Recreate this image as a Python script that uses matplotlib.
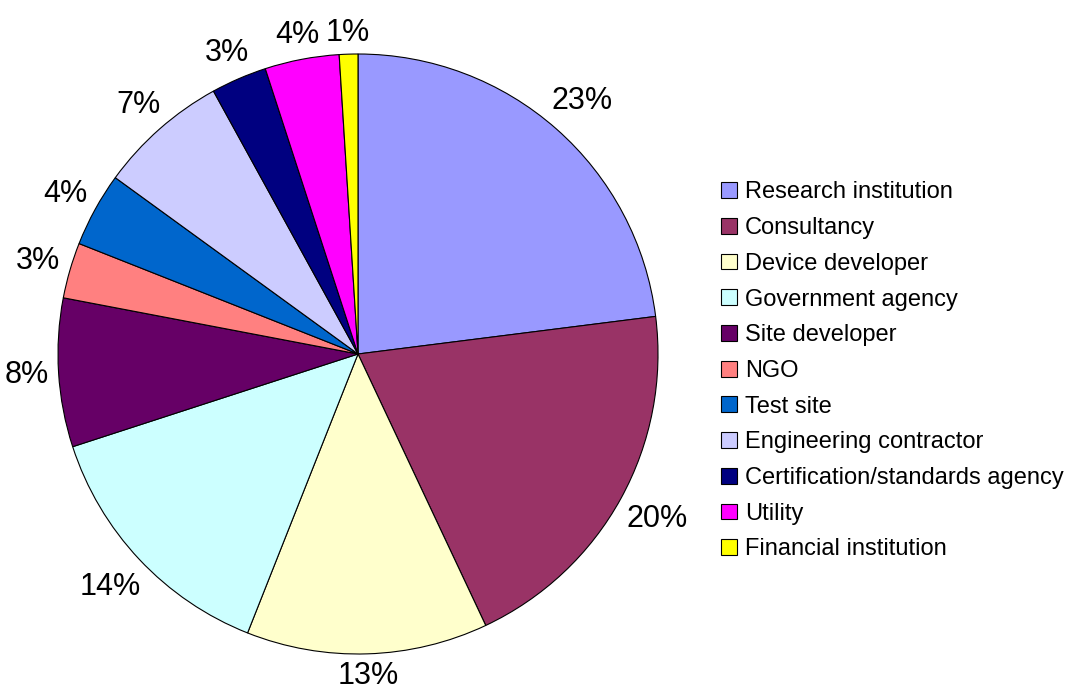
import numpy as np
import matplotlib.pyplot as plt

plt.rcParams["font.family"] = ["Liberation Sans", "DejaVu Sans"]

categories = [
    "Research institution",
    "Consultancy",
    "Device developer",
    "Government agency",
    "Site developer",
    "NGO",
    "Test site",
    "Engineering contractor",
    "Certification/standards agency",
    "Utility",
    "Financial institution",
]
shares = [23, 20, 13, 14, 8, 3, 4, 7, 3, 4, 1]
colors = [
    "#9999FF", "#993366", "#FFFFCC", "#CCFFFF", "#660066", "#FF8080",
    "#0066CC", "#CCCCFF", "#000080", "#FF00FF", "#FFFF00",
]

W, H = 1074, 691
fig = plt.figure(figsize=(W / 100, H / 100), dpi=100)
R = 300  # pie radius in px
cx, cy = 358, 354
ax = fig.add_axes([(cx - R) / W, (H - cy - R) / H, 2 * R / W, 2 * R / H])

wedges, _ = ax.pie(
    shares,
    colors=colors,
    startangle=90,
    counterclock=False,
    radius=1,
    wedgeprops=dict(edgecolor="black", linewidth=0.8),
)
ax.set_xlim(-1, 1)
ax.set_ylim(-1, 1)
ax.axis("off")

# percentage labels just outside the rim, pushed out by half the text box
fs = 22
em = fs * 100 / 72 / R  # em in data units
gap = 9 / R
for w, v in zip(wedges, shares):
    theta = np.deg2rad((w.theta1 + w.theta2) / 2)
    label = f"{v}%"
    ndig = len(label) - 1
    half_w = (ndig * 0.556 + 0.889) * em / 2
    half_h = 12 / R
    d = 1 + gap + half_w * abs(np.cos(theta)) + half_h * abs(np.sin(theta))
    ax.text(d * np.cos(theta), d * np.sin(theta) + 3 / R, label, fontsize=fs,
            ha="center", va="center_baseline", clip_on=False)

fig.legend(
    wedges, categories,
    loc="upper left",
    bbox_to_anchor=(712 / W, 1 - 172 / H),
    frameon=False,
    fontsize=17,
    handlelength=0.65,
    handleheight=0.65,
    handletextpad=0.35,
    labelspacing=0.58,
    borderaxespad=0,
)

fig.savefig("out.png", dpi=100)
